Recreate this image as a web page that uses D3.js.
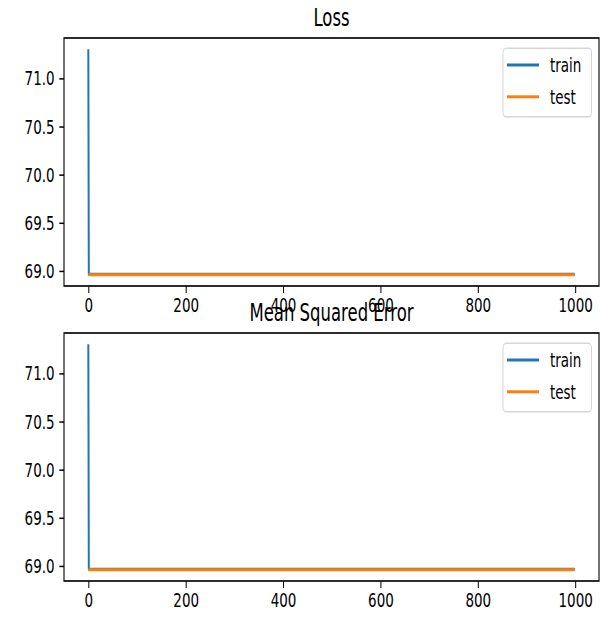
<!DOCTYPE html>
<html>
<head>
<meta charset="utf-8">
<script src="https://cdn.jsdelivr.net/npm/d3@7"></script>
<style>
  body { margin: 0; background: white; }
  text { font-family: "DejaVu Sans", sans-serif; fill: #000; }
</style>
</head>
<body>
<div class="main_contain"></div>
<script>
// values (loss and mse are the same curves)
var epochs = [0, 1, 999];
var trainLoss = [71.30, 68.962, 68.962];
var testLoss = [68.958, 68.958, 68.958];
var trainMse = [71.30, 68.962, 68.962];
var testMse = [68.958, 68.958, 68.958];
var xTicks = [0, 200, 400, 600, 800, 1000];
var yTicks = [69.0, 69.5, 70.0, 70.5, 71.0];
var seriesNames = ["train", "test"];
var seriesColors = ["#1f77b4", "#ff7f0e"];

var svg_width = 601;
var svg_height = 617;
// the original figure was stretched vertically, so draw in squashed units and scale
var stretch = 1.5;

var svg = d3.select(".main_contain")
            .append("svg")
            .attr("width", svg_width)
            .attr("height", svg_height);

var root = svg.append("g")
              .attr("transform", "scale(1," + stretch + ")");

function drawPanel(trainVals, testVals, title, top){
  var margins = {left: 64, right: 599, top: top, bottom: top + 165.33};
  var width = margins.right - margins.left;
  var height = margins.bottom - margins.top;

  var allVals = trainVals.concat(testVals);
  var yMin = d3.min(allVals), yMax = d3.max(allVals);
  var yPad = (yMax - yMin) * 0.05;
  var xMax = d3.max(epochs), xPad = xMax * 0.05;

  var x = d3.scaleLinear()
            .domain([-xPad, xMax + xPad])
            .range([0, width]);
  var y = d3.scaleLinear()
            .domain([yMin - yPad, yMax + yPad])
            .range([height, 0]);

  var g = root.append("g")
              .attr("transform", "translate(" + margins.left + "," + margins.top + ")");

  var line = d3.line()
               .x((d, i) => x(epochs[i]))
               .y(d => y(d));

  [trainVals, testVals].forEach(function(vals, i){
    g.append("path")
      .datum(vals)
      .attr("d", line)
      .style("fill", "none")
      .style("stroke", seriesColors[i])
      .style("stroke-width", 2)
      .style("stroke-linejoin", "round");
  });

  var xAxis = d3.axisBottom(x)
                .tickValues(xTicks)
                .tickSize(4.7)
                .tickPadding(3.2)
                .tickFormat(d3.format("d"));
  var yAxis = d3.axisLeft(y)
                .tickValues(yTicks)
                .tickSize(4.7)
                .tickPadding(4.7)
                .tickFormat(d3.format(".1f"));

  var xg = g.append("g")
            .attr("transform", "translate(0," + height + ")")
            .call(xAxis);
  var yg = g.append("g").call(yAxis);

  [xg, yg].forEach(function(ax){
    ax.select(".domain").remove();
    ax.selectAll("line").style("stroke", "#000").style("stroke-width", 1);
    ax.selectAll("text").style("font-size", "13.5px").style("font-family", "DejaVu Sans");
  });

  // frame
  g.append("rect")
    .attr("x", 0)
    .attr("y", 0)
    .attr("width", width)
    .attr("height", height)
    .style("fill", "none")
    .style("stroke", "#000")
    .style("stroke-width", 1.1);

  g.append("text")
    .attr("x", width / 2)
    .attr("y", -8.1)
    .attr("text-anchor", "middle")
    .style("font-size", "16.5px")
    .text(title);

  // legend
  var leg = g.append("g")
             .attr("transform", "translate(" + (width - 96) + ",6.9)");
  leg.append("rect")
    .attr("x", 0)
    .attr("y", 0)
    .attr("width", 88.5)
    .attr("height", 45.6)
    .attr("rx", 3)
    .style("fill", "white")
    .style("fill-opacity", 0.8)
    .style("stroke", "#d6d6d6")
    .style("stroke-width", 1);

  seriesNames.forEach(function(name, i){
    var ly = 11.1 + i * 21.2;
    leg.append("line")
      .attr("x1", 4)
      .attr("x2", 36)
      .attr("y1", ly)
      .attr("y2", ly)
      .style("stroke", seriesColors[i])
      .style("stroke-width", 2);
    leg.append("text")
      .attr("x", 47)
      .attr("y", ly + 4.8)
      .style("font-size", "13.5px")
      .text(name);
  });
}

drawPanel(trainLoss, testLoss, "Loss", 25.33);
drawPanel(trainMse, testMse, "Mean Squared Error", 222);
</script>
</body>
</html>
